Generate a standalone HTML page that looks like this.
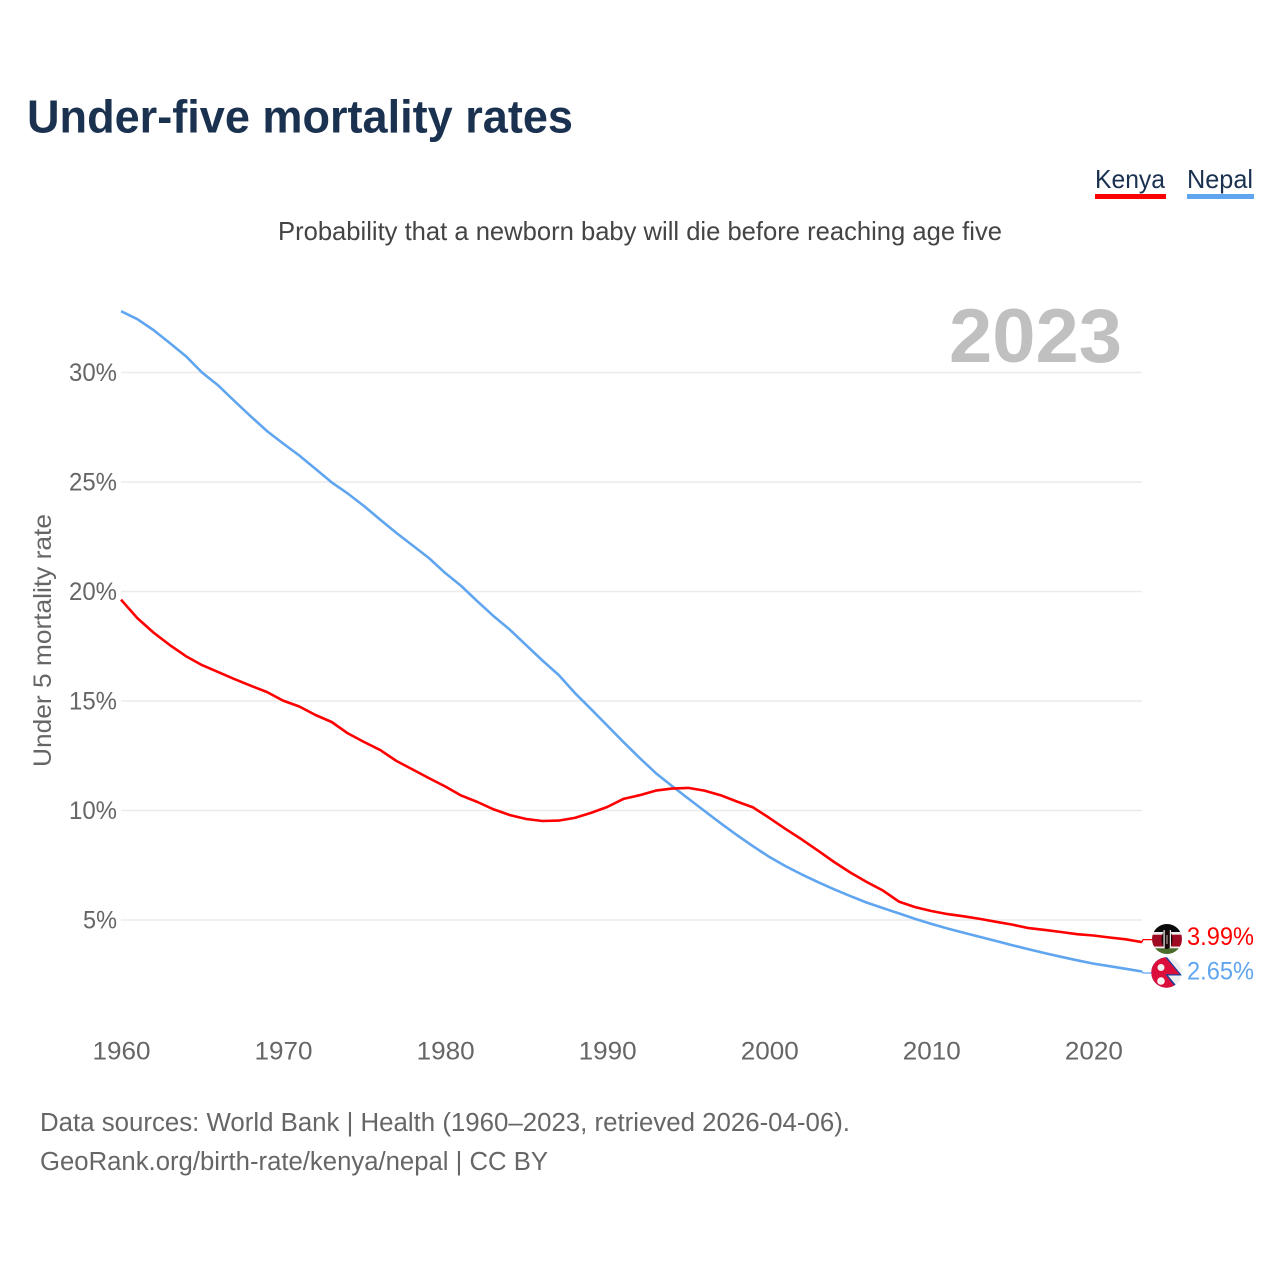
<!DOCTYPE html>
<html lang="en">
<head>
<meta charset="utf-8">
<title>Under-five mortality rates</title>
<style>
html,body{margin:0;padding:0;background:#fff;}
svg{display:block;font-family:"Liberation Sans",sans-serif;}
</style>
</head>
<body>
<svg id="chart" width="1280" height="1280" viewBox="0 0 1280 1280" xmlns="http://www.w3.org/2000/svg">
  <rect width="1280" height="1280" fill="#fff"/>
  <text x="27" y="132.5" font-size="46" font-weight="700" fill="#1a3150" textLength="546" lengthAdjust="spacingAndGlyphs">Under-five mortality rates</text>
  <text x="278" y="240" font-size="26" fill="#444" textLength="724" lengthAdjust="spacingAndGlyphs">Probability that a newborn baby will die before reaching age five</text>

  <g>
    <g>
      <text x="1095" y="188" font-size="26" fill="#1a3150" textLength="70" lengthAdjust="spacingAndGlyphs">Kenya</text>
      <rect x="1095" y="194" width="71" height="5" fill="#ff0000"/>
    </g>
    <g>
      <text x="1187" y="188" font-size="26" fill="#1a3150" textLength="66" lengthAdjust="spacingAndGlyphs">Nepal</text>
      <rect x="1187" y="194" width="67" height="5" fill="#60a5ef"/>
    </g>
  </g>

  <g id="grid"></g>
  <text x="949" y="362" font-size="76" font-weight="700" fill="#c0c0c0" textLength="173" lengthAdjust="spacingAndGlyphs">2023</text>
  <g id="y-ticks"></g>
  <g id="x-ticks"></g>
  <text transform="translate(51 767) rotate(-90)" font-size="25" fill="#666" textLength="253" lengthAdjust="spacingAndGlyphs">Under 5 mortality rate</text>

  <g id="series"></g>

  <g id="flag-kenya">
    <clipPath id="clip-kenya"><circle cx="1167" cy="939" r="15"/></clipPath>
    <g clip-path="url(#clip-kenya)">
      <rect x="1150" y="922" width="34" height="10.5" fill="#0a0a0a"/>
      <rect x="1150" y="932" width="34" height="3" fill="#eee"/>
      <rect x="1150" y="934.7" width="34" height="12" fill="#9e0b22"/>
      <rect x="1150" y="946.5" width="34" height="2" fill="#eee"/>
      <rect x="1150" y="948.3" width="34" height="9" fill="#4a6b2a"/>
      <ellipse cx="1167" cy="939.5" rx="5.5" ry="9.5" fill="#1a0a0a"/>
      <rect x="1163.5" y="930" width="1.2" height="18" fill="#f0f0f0"/>
      <rect x="1169.8" y="930" width="1.2" height="18" fill="#f0f0f0"/>
      <rect x="1166.5" y="935" width="1" height="9" fill="#c9b0b0"/>
    </g>
  </g>
  <g id="flag-nepal">
    <clipPath id="clip-nepal"><circle cx="1166.5" cy="972.5" r="15.2"/></clipPath>
    <circle cx="1166.5" cy="972.5" r="15.2" fill="#efefef"/>
    <g clip-path="url(#clip-nepal)">
      <polygon points="1150,955 1166,956 1182,975.5 1168,975.5 1180,990 1150,990" fill="#1f3f9a"/>
      <polygon points="1150,955 1165,957 1179.5,974.2 1165.3,974.2 1177.5,990 1150,990" fill="#dc0f3c"/>
      <circle cx="1161" cy="967.5" r="3.5" fill="#f4f4f4"/>
      <circle cx="1161" cy="981" r="3.8" fill="#f4f4f4"/>
    </g>
  </g>
  <g id="end-labels"></g>

  <text x="40" y="1131" font-size="25.5" fill="#666" textLength="810" lengthAdjust="spacingAndGlyphs">Data sources: World Bank | Health (1960–2023, retrieved 2026-04-06).</text>
  <text x="40" y="1170" font-size="25.5" fill="#666" textLength="508" lengthAdjust="spacingAndGlyphs">GeoRank.org/birth-rate/kenya/nepal | CC BY</text>
</svg>
<script>
const startYear = 1960;
const xTickLabels = ['1960', '1970', '1980', '1990', '2000', '2010', '2020'];
const yTickValues = [5, 10, 15, 20, 25, 30];
const kenyaValues = [19.63, 18.79, 18.13, 17.56, 17.05, 16.64, 16.32, 16.0, 15.7, 15.41,
  15.02, 14.75, 14.36, 14.04, 13.52, 13.13, 12.76, 12.26, 11.87, 11.48,
  11.1, 10.68, 10.39, 10.05, 9.79, 9.61, 9.52, 9.54, 9.66, 9.89,
  10.16, 10.53, 10.7, 10.91, 11.0, 11.03, 10.91, 10.7, 10.41, 10.14,
  9.66, 9.16, 8.68, 8.17, 7.65, 7.17, 6.74, 6.35, 5.84, 5.59,
  5.41, 5.27, 5.17, 5.05, 4.92, 4.79, 4.63, 4.55, 4.45, 4.35,
  4.29, 4.2, 4.12, 3.99];
const nepalValues = [32.8, 32.44, 31.94, 31.35, 30.75, 30.0, 29.41, 28.7, 28.0, 27.33,
  26.76, 26.21, 25.6, 24.98, 24.47, 23.9, 23.28, 22.67, 22.1, 21.53,
  20.85, 20.25, 19.55, 18.87, 18.25, 17.55, 16.85, 16.19, 15.37, 14.63,
  13.88, 13.13, 12.4, 11.71, 11.12, 10.55, 9.98, 9.42, 8.88, 8.37,
  7.88, 7.46, 7.08, 6.73, 6.4, 6.09, 5.8, 5.55, 5.3, 5.05,
  4.82, 4.61, 4.42, 4.23, 4.04, 3.85, 3.66, 3.49, 3.32, 3.16,
  3.01, 2.89, 2.77, 2.65];

const NS = 'http://www.w3.org/2000/svg';
function xScale(year) { return 121 + (year - 1960) * (1142 - 121) / 63; }
function yScale(v) { return 920 - (v - 5) * 21.9; }
function mk(tag, parent, attrs) {
  const el = document.createElementNS(NS, tag);
  for (const k in attrs) el.setAttribute(k, attrs[k]);
  parent.appendChild(el);
  return el;
}

const gridG = document.getElementById('grid');
const yG = document.getElementById('y-ticks');
yTickValues.forEach(function (v) {
  const line = mk('line', gridG, { x1: 121, x2: 1142, y1: yScale(v), y2: yScale(v), stroke: '#ebebeb', 'stroke-width': 1.5 });
  
  
  const t = mk('text', yG, { x: 117, y: yScale(v) + 8.5, 'font-size': 25, fill: '#666', 'text-anchor': 'end', textLength: v < 10 ? 34 : 48, lengthAdjust: 'spacingAndGlyphs' });
  
  
  t.textContent = v + '%';
});

const xG = document.getElementById('x-ticks');
xTickLabels.forEach(function (label) {
  const t = mk('text', xG, { x: xScale(+label) + 0.5, y: 1059.5, 'font-size': 25, fill: '#666', 'text-anchor': 'middle', textLength: 58, lengthAdjust: 'spacingAndGlyphs' });
  
  
  t.textContent = label;
});

function drawSeries(values, color, labelShift, seriesName) {
  const seriesG = document.getElementById('series');
  const pts = values.map(function (v, i) { return xScale(startYear + i).toFixed(1) + ',' + yScale(v).toFixed(1); });
  const lastX = xScale(startYear + values.length - 1);
  const lastY = yScale(values[values.length - 1]);
  const line = mk('polyline', seriesG, { points: pts.join(' '), fill: 'none', stroke: color, 'stroke-width': 2.6, 'stroke-linejoin': 'round' });
  
  
  const conn = mk('polyline', seriesG, { points: lastX + ',' + lastY + ' ' + (lastX + 1) + ',' + (lastY + labelShift) + ' ' + (lastX + 10) + ',' + (lastY + labelShift), fill: 'none', stroke: color, 'stroke-width': 1.2 });
  
  
  const endG = document.getElementById('end-labels');
  const t = mk('text', endG, { x: 1187, y: lastY + labelShift + 5.5 + (labelShift < 0 ? 0 : 1), 'font-size': 25, fill: color, textLength: 67, lengthAdjust: 'spacingAndGlyphs' });
  
  
  t.textContent = values[values.length - 1].toFixed(2) + '%';
}
drawSeries(nepalValues, '#60a5ef', 1.5, 'nepal');
drawSeries(kenyaValues, '#ff0000', -2.5, 'kenya');
</script>
</body>
</html>
